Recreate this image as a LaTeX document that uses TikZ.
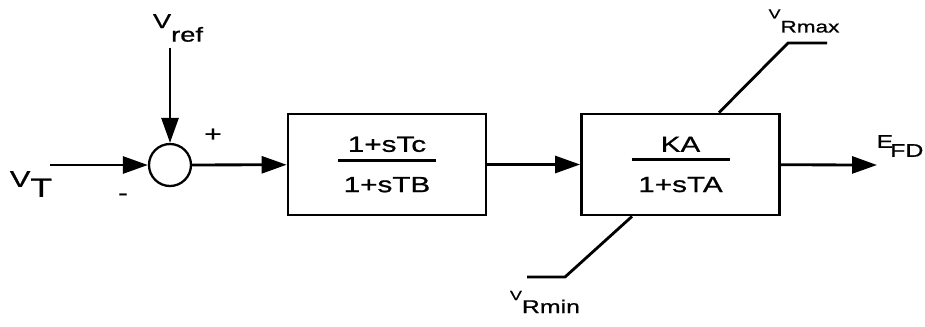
\documentclass[tikz,border=0pt]{standalone}
\usepackage{fontspec}
\setmainfont{Liberation Sans}[FakeStretch=1.35, FakeBold=0.8]
\usetikzlibrary{positioning,arrows.meta}

% signal name with a large, dropped subscript
\newcommand{\siglabel}[5]{{\fontsize{#3}{#3}\selectfont #1}\raisebox{-#5}{\fontsize{#4}{#4}\selectfont #2}}
% transfer function set inside a block
\newcommand{\blockfrac}[2]{\vbox{\hbox to 1.96cm{\hfil#1\hfil}\kern0.13cm\hrule height 0.06cm\kern0.31cm\hbox to 1.96cm{\hfil#2\hfil}}}

\begin{document}
\begin{tikzpicture}[x=0.02cm, y=-0.02cm, line width=1.6pt,
  every node/.style={font=\fontsize{12.5}{15}\selectfont, inner sep=0pt},
  blockbox/.style={draw, minimum width=3.96cm, minimum height=2.02cm},
  sumjct/.style={draw, circle, minimum size=0.84cm, line width=1.3pt},
  sig/.style={-{Triangle[length=5mm,width=3.4mm]}}]
  \useasboundingbox (0,0) rectangle (925,326);
  \node[sumjct] (sum) at (170,165) {};
  \node[blockbox] (lead) at (387,164.5) {\blockfrac{1+sTc}{1+sTB}};
  \node[blockbox] (amp) at (680.5,164.5) {\blockfrac{KA}{1+sTA}};
  \coordinate (vtin) at (50,165);
  \coordinate (vrefin) at (170,48);
  \coordinate (efdout) at (877,165);
  \coordinate (maxknee) at (788,43);
  \coordinate (maxend) at (827,43);
  \coordinate (minknee) at (565,277);
  \coordinate (minend) at (527,277);
  % labels
  \node (vt) at (31,184) {\siglabel{V}{T}{13}{15}{0.2cm}};
  \node (vref) at (178,28) {\siglabel{V}{ref}{11.5}{11.5}{0.27cm}};
  \node (vrmax) at (804,21) {\siglabel{V}{Rmax}{7.5}{9.5}{0.28cm}};
  \node (vrmin) at (545,302) {\siglabel{V}{Rmin}{7.5}{10.5}{0.26cm}};
  \node (efd) at (900,146) {\siglabel{E}{\kern-0.06cm FD}{10.5}{10.5}{0.18cm}};
  \node (plus) at (213,135) {+};
  \node (minus) at (123,197) {-};
  % signal path
  \draw[sig] (vtin) -- (sum);
  \draw[sig] (vrefin) -- (sum);
  \draw[sig] (sum) -- (lead);
  \draw[sig] (lead) -- (amp);
  \draw[sig] (amp) -- (efdout);
  % output limits
  \draw ([xshift=0.77cm]amp.north) -- (maxknee) -- (maxend);
  \draw ([xshift=-0.97cm]amp.south) -- (minknee) -- (minend);
\end{tikzpicture}
\end{document}
